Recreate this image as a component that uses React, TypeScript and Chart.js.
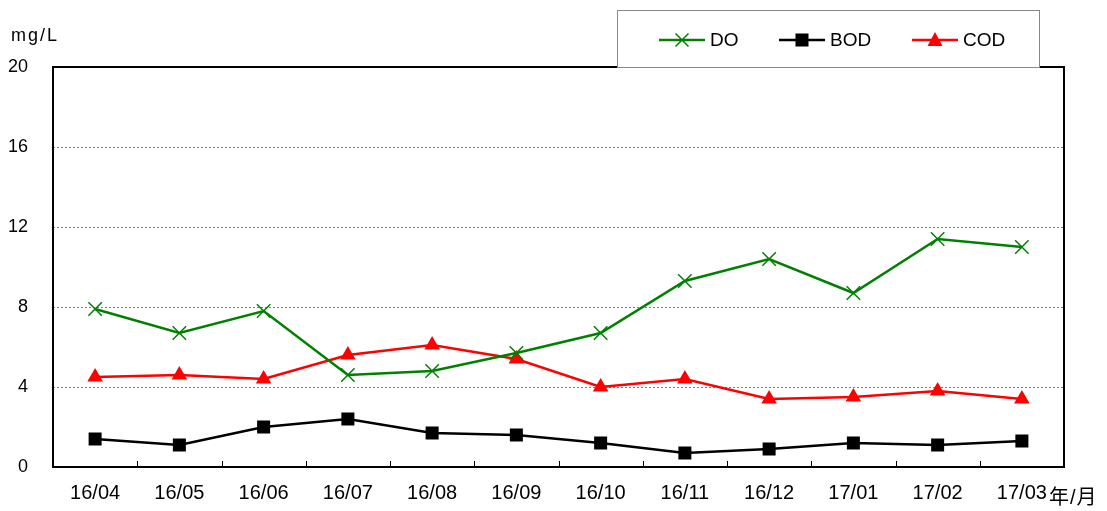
import React, { useEffect, useRef } from "react";
import { Chart, registerables } from "chart.js";

Chart.register(...registerables);

const categories = ["16/04", "16/05", "16/06", "16/07", "16/08", "16/09", "16/10", "16/11", "16/12", "17/01", "17/02", "17/03"];
const doValues = [7.9, 6.7, 7.8, 4.6, 4.8, 5.7, 6.7, 9.3, 10.4, 8.7, 11.4, 11.0];
const bodValues = [1.4, 1.1, 2.0, 2.4, 1.7, 1.6, 1.2, 0.7, 0.9, 1.2, 1.1, 1.3];
const codValues = [4.5, 4.6, 4.4, 5.6, 6.1, 5.4, 4.0, 4.4, 3.4, 3.5, 3.8, 3.4];
const yTicks = [0, 4, 8, 12, 16, 20];
const yUnit = "mg/L";
const xUnit = "年/月";

const FONT = '"Liberation Sans", "Noto Sans CJK JP", sans-serif';

const decorPlugin = {
  id: "decor",
  afterDraw(chart: any) {
    const { ctx, chartArea } = chart;
    const xs = chart.scales.x;
    ctx.save();
    // plot border
    ctx.strokeStyle = "#000";
    ctx.lineWidth = 2;
    ctx.strokeRect(chartArea.left, chartArea.top, chartArea.right - chartArea.left, chartArea.bottom - chartArea.top);
    // inner tick marks between categories
    ctx.lineWidth = 1;
    for (let i = 1; i < categories.length; i++) {
      const x = Math.round((xs.getPixelForTick(i - 1) + xs.getPixelForTick(i)) / 2) + 0.5;
      ctx.beginPath();
      ctx.moveTo(x, chartArea.bottom);
      ctx.lineTo(x, chartArea.bottom - 6);
      ctx.stroke();
    }
    // unit texts
    ctx.fillStyle = "#000";
    ctx.textBaseline = "middle";
    ctx.textAlign = "left";
    ctx.font = `18px ${FONT}`;
    (ctx as any).letterSpacing = "2px";
    ctx.fillText(yUnit, 11, 36);
    ctx.font = `20px ${FONT}`;
    (ctx as any).letterSpacing = "1px";
    ctx.fillText(xUnit, 1049, 498);
    (ctx as any).letterSpacing = "0px";
    // legend box
    const bx = 617, by = 10, bw = 422, bh = 57;
    ctx.fillStyle = "#fff";
    ctx.fillRect(bx, by, bw, bh);
    ctx.strokeStyle = "#888";
    ctx.lineWidth = 1;
    ctx.strokeRect(bx + 0.5, by + 0.5, bw, bh);
    const items = [
      { x: 659, ds: 0 },
      { x: 779, ds: 1 },
      { x: 912, ds: 2 },
    ];
    const ly = 40;
    items.forEach((it) => {
      const ds = chart.data.datasets[it.ds];
      ctx.strokeStyle = ds.borderColor;
      ctx.lineWidth = 2.5;
      ctx.beginPath();
      ctx.moveTo(it.x, ly);
      ctx.lineTo(it.x + 46, ly);
      ctx.stroke();
      const cx = it.x + 23;
      ctx.fillStyle = ds.pointBackgroundColor;
      ctx.strokeStyle = ds.pointBorderColor;
      if (ds.pointStyle === "crossRot") {
        ctx.lineWidth = 1.5;
        ctx.beginPath();
        ctx.moveTo(cx - 6.5, ly - 6.5);
        ctx.lineTo(cx + 6.5, ly + 6.5);
        ctx.moveTo(cx + 6.5, ly - 6.5);
        ctx.lineTo(cx - 6.5, ly + 6.5);
        ctx.stroke();
      } else if (ds.pointStyle === "rect") {
        ctx.fillRect(cx - 6.5, ly - 6.5, 13, 13);
      } else {
        ctx.beginPath();
        ctx.moveTo(cx, ly - 8);
        ctx.lineTo(cx + 7.5, ly + 6);
        ctx.lineTo(cx - 7.5, ly + 6);
        ctx.closePath();
        ctx.fill();
      }
      ctx.fillStyle = "#000";
      ctx.font = `19px ${FONT}`;
      ctx.textAlign = "left";
      ctx.fillText(ds.label, it.x + 51, ly + 1);
    });
    ctx.restore();
  },
};

export default function App() {
  const ref = useRef<HTMLCanvasElement>(null);
  useEffect(() => {
    document.body.style.margin = "0";
    const chart = new Chart(ref.current!, {
      type: "line",
      data: {
        labels: categories,
        datasets: [
          {
            label: "DO",
            data: doValues,
            borderColor: "#008000",
            backgroundColor: "#008000",
            pointBackgroundColor: "#008000",
            pointBorderColor: "#008000",
            pointStyle: "crossRot",
            pointRadius: 9.5,
            pointBorderWidth: 1.5,
            borderWidth: 2.5,
          },
          {
            label: "BOD",
            data: bodValues,
            borderColor: "#000000",
            backgroundColor: "#000000",
            pointBackgroundColor: "#000000",
            pointBorderColor: "#000000",
            pointStyle: "rect",
            pointRadius: 9.2,
            pointBorderWidth: 0,
            borderWidth: 2.5,
          },
          {
            label: "COD",
            data: codValues,
            borderColor: "#ff0000",
            backgroundColor: "#ff0000",
            pointBackgroundColor: "#ff0000",
            pointBorderColor: "#ff0000",
            pointStyle: "triangle",
            pointRadius: 9,
            pointBorderWidth: 0,
            borderWidth: 2.5,
          },
        ] as any,
      },
      options: {
        animation: false,
        responsive: true,
        maintainAspectRatio: false,
        layout: { padding: { left: 0, right: 43, top: 67, bottom: 0 } },
        plugins: { legend: { display: false }, tooltip: { enabled: false } },
        elements: { line: { tension: 0 } },
        scales: {
          x: {
            offset: true,
            grid: { display: false, drawTicks: false },
            border: { display: false },
            ticks: { color: "#000", font: { family: FONT, size: 20 }, padding: 14, maxRotation: 0, autoSkip: false },
            afterFit: (s: any) => {
              s.height = 44;
            },
          },
          y: {
            min: 0,
            max: 20,
            afterBuildTicks: (s: any) => {
              s.ticks = yTicks.map((v) => ({ value: v }));
            },
            grid: {
              drawTicks: false,
              color: (c: any) => (c.tick && (c.tick.value === 0 || c.tick.value === 20) ? "rgba(0,0,0,0)" : "#808080"),
              lineWidth: 1,
            },
            border: { display: false, dash: [2, 2] },
            ticks: { color: "#000", font: { family: FONT, size: 18 }, padding: 25 },
            afterFit: (s: any) => {
              s.width = 53;
            },
          },
        },
      },
      plugins: [decorPlugin],
    });
    return () => chart.destroy();
  }, []);
  return (
    <div style={{ width: 1107, height: 511, position: "relative" }}>
      <canvas ref={ref} />
    </div>
  );
}
